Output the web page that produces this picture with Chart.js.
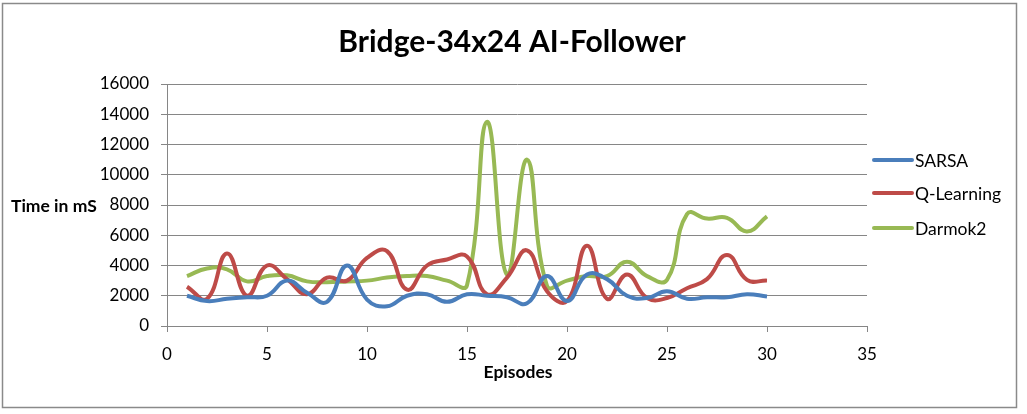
<!DOCTYPE html>
<html>
<head>
<meta charset="utf-8">
<script src="https://cdn.jsdelivr.net/npm/chart.js@4.4.1/dist/chart.umd.min.js"></script>
<style>
  html, body { margin: 0; padding: 0; background: #ffffff; }
  #wrap { position: relative; width: 1027px; height: 414px; }
</style>
</head>
<body>
<div id="wrap"><canvas id="c" width="1027" height="414"></canvas></div>
<script>
const chartTitle = "Bridge-34x24 AI-Follower";
const xAxisTitle = "Episodes";
const yAxisTitle = "Time in mS";
const episodes = [1,2,3,4,5,6,7,8,9,10,11,12,13,14,15,16,17,18,19,20,21,22,23,24,25,26,27,28,29,30];
const sarsa = [2000,1650,1800,1900,2000,3000,2200,1600,4000,1750,1300,2000,2100,1600,2100,2000,1900,1500,3300,1650,3400,3100,2000,1850,2300,1800,1900,1900,2100,1950];
const qLearning = [2600,1800,4800,2000,4000,3100,2100,3200,3000,4500,4950,2400,4000,4400,4600,2100,3200,5000,2300,1650,5300,1800,3400,1850,1850,2500,3100,4700,3050,3000];
const darmok2 = [3300,3800,3750,2950,3300,3350,2950,2900,2950,3000,3200,3300,3300,3000,2700,13500,3400,11000,2650,3000,3300,3300,4250,3300,3050,7400,7100,7150,6250,7250];
const seriesNames = ["SARSA", "Q-Learning", "Darmok2"];
const seriesColors = ["#4a7ebb", "#be4b48", "#98b954"];

const FONT = "Lato, 'Open Sans', sans-serif";

function pts(arr) { return arr.map((v, i) => ({ x: episodes[i], y: v })); }

const frame = {
  id: 'frame',
  beforeDraw(chart) {
    const ctx = chart.ctx;
    ctx.save();
    ctx.fillStyle = '#fff';
    ctx.fillRect(0, 0, chart.width, chart.height);
    ctx.strokeStyle = '#8a8a8a';
    ctx.lineWidth = 1.5;
    ctx.strokeRect(2.5, 3.5, 1014, 404);
    ctx.restore();
  },
  afterDraw(chart) {
    const ctx = chart.ctx;
    const ca = chart.chartArea;
    ctx.save();
    // title
    ctx.fillStyle = '#000';
    ctx.textAlign = 'center';
    ctx.textBaseline = 'alphabetic';
    ctx.font = "bold 30px " + FONT;
    ctx.fillText(chartTitle, 512, 52);
    // y axis title (horizontal)
    ctx.font = "bold 17.5px " + FONT;
    ctx.textAlign = 'left';
    ctx.textBaseline = 'middle';
    ctx.fillText(yAxisTitle, 11, chart.scales.y.getPixelForValue(8000) + 1);
    // x axis title
    ctx.textAlign = 'center';
    ctx.fillText(xAxisTitle, 518, 372);
    // legend
    const ys = [160, 193, 228];
    chart.data.datasets.forEach((ds, i) => {
      ctx.strokeStyle = ds.borderColor;
      ctx.lineWidth = 4;
      ctx.lineCap = 'round';
      ctx.beginPath();
      ctx.moveTo(874, ys[i]);
      ctx.lineTo(912, ys[i]);
      ctx.stroke();
      ctx.fillStyle = '#000';
      ctx.font = "17.5px " + FONT;
      ctx.textAlign = 'left';
      ctx.textBaseline = 'middle';
      ctx.fillText(ds.label, 915, ys[i] + 1);
    });
    ctx.restore();
  }
};

new Chart(document.getElementById('c'), {
  type: 'line',
  data: {
    datasets: seriesNames.map((name, i) => ({
      label: name,
      data: pts([sarsa, qLearning, darmok2][i]),
      borderColor: seriesColors[i],
      backgroundColor: seriesColors[i],
      borderWidth: 4,
      pointRadius: 0,
      tension: 0.45,
      fill: false
    }))
  },
  options: {
    responsive: false,
    animation: false,
    devicePixelRatio: 1,
    layout: { padding: { top: 84, right: 160, left: 0, bottom: 0 } },
    plugins: { legend: { display: false }, title: { display: false }, tooltip: { enabled: false } },
    scales: {
      x: {
        type: 'linear',
        min: 0, max: 35,
        ticks: { stepSize: 5, color: '#000', font: { family: FONT, size: 17 }, padding: 12, maxRotation: 0,
                 callback: (v) => String(v) },
        grid: { display: true, drawOnChartArea: false, drawTicks: true, tickLength: 6, color: '#868686', lineWidth: 1 },
        border: { display: true, color: '#868686', width: 1 },
        afterFit(s) { s.height = 88; }
      },
      y: {
        min: 0, max: 16000,
        ticks: { stepSize: 2000, color: '#000', font: { family: FONT, size: 17 }, padding: 12,
                 callback: (v) => String(v) },
        grid: { color: '#868686', lineWidth: 1, tickLength: 6 },
        border: { display: true, color: '#868686', width: 1 },
        afterFit(s) { s.width = 167; }
      }
    }
  },
  plugins: [frame]
});
</script>
</body>
</html>
